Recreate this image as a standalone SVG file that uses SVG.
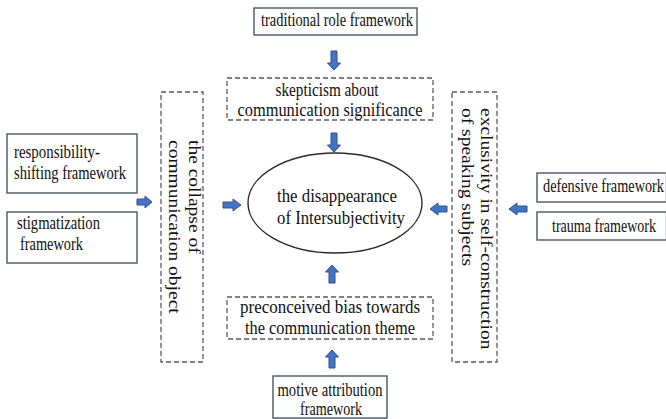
<svg xmlns="http://www.w3.org/2000/svg" width="666" height="419" viewBox="0 0 666 419">
<defs>
<style>
text{font-family:"Liberation Serif","Times New Roman",serif;font-size:18px;fill:#111}
.c{text-anchor:middle}
.solid{fill:#fff;stroke:#4a5664;stroke-width:1.4}
.dash{fill:none;stroke:#555a60;stroke-width:1.3;stroke-dasharray:5 3}
.arr{fill:#4472c4;stroke:#2f528f;stroke-width:1}
.v{font-size:19.5px}
</style>
</defs>
<rect width="666" height="419" fill="#fff"/>

<g id="connectors">
<path class="arr" d="M331,51 H337 V63 H340.5 L334,70 L327.5,63 H331 Z"/>
<path class="arr" d="M331,133 H337 V145 H340.5 L334,152 L327.5,145 H331 Z"/>
<path class="arr" d="M329,283 H335 V272 H338.5 L332,265 L325.5,272 H329 Z"/>
<path class="arr" d="M329,368 H335 V357 H338.5 L332,350 L325.5,357 H329 Z"/>
<path class="arr" d="M137,199 V205 H145 V208 L152,202 L145,196 V199 Z"/>
<path class="arr" d="M223,202 V208 H233 V211 L241,205 L233,199 V202 Z"/>
<path class="arr" d="M447,206 V212 H438 V215 L430,209 L438,203 V206 Z"/>
<path class="arr" d="M527,206 V212 H517 V215 L509,209 L517,203 V206 Z"/>
</g>

<g id="traditional">
<rect class="solid" x="254" y="8" width="163" height="27"/>
<text class="c" x="337" y="26" textLength="152" lengthAdjust="spacingAndGlyphs">traditional role framework</text>
</g>

<g id="skepticism">
<rect class="dash" x="227" y="78" width="206" height="42"/>
<text class="c" x="327" y="96" textLength="103" lengthAdjust="spacingAndGlyphs">skepticism about</text>
<text class="c" x="330" y="116" textLength="185" lengthAdjust="spacingAndGlyphs">communication significance</text>
</g>

<g id="center">
<ellipse cx="335" cy="203" rx="87" ry="50" fill="#fff" stroke="#2a2a2a" stroke-width="1.4"/>
<text class="c" x="337" y="202" textLength="120" lengthAdjust="spacingAndGlyphs">the disappearance</text>
<text class="c" x="341" y="224" textLength="128" lengthAdjust="spacingAndGlyphs">of Intersubjectivity</text>
</g>

<g id="preconceived">
<rect class="dash" x="227" y="297" width="206" height="42"/>
<text class="c" x="330" y="313" textLength="180" lengthAdjust="spacingAndGlyphs">preconceived bias towards</text>
<text class="c" x="330" y="334" textLength="170" lengthAdjust="spacingAndGlyphs">the communication theme</text>
</g>

<g id="motive">
<rect class="solid" x="273" y="376" width="114" height="42"/>
<text class="c" x="330" y="396" textLength="105" lengthAdjust="spacingAndGlyphs">motive attribution</text>
<text class="c" x="331" y="415" textLength="62" lengthAdjust="spacingAndGlyphs">framework</text>
</g>

<g id="collapse">
<rect class="dash" x="161" y="92" width="42" height="270"/>
<text class="v" transform="translate(189,140) rotate(90) scale(1,0.81)">the collapse of</text>
<text class="v" transform="translate(169,140) rotate(90) scale(1,0.81)">communication object</text>
</g>

<g id="exclusivity">
<rect class="dash" x="452" y="92" width="45" height="270"/>
<text class="v" transform="translate(481,108) rotate(90) scale(1,0.81)">exclusivity in self-construction</text>
<text class="v" transform="translate(462,108) rotate(90) scale(1,0.81)">of speaking subjects</text>
</g>

<g id="responsibility">
<rect class="solid" x="7" y="134" width="130" height="59"/>
<text x="14" y="158" textLength="86" lengthAdjust="spacingAndGlyphs">responsibility-</text>
<text x="14" y="179" textLength="112" lengthAdjust="spacingAndGlyphs">shifting framework</text>
</g>

<g id="stigmatization">
<rect class="solid" x="7" y="212" width="130" height="51"/>
<text x="17" y="229" textLength="83" lengthAdjust="spacingAndGlyphs">stigmatization</text>
<text x="20" y="250" textLength="63" lengthAdjust="spacingAndGlyphs">framework</text>
</g>

<g id="defensive">
<rect class="solid" x="537" y="173" width="129.5" height="29"/>
<text x="543" y="192" textLength="121" lengthAdjust="spacingAndGlyphs">defensive framework</text>
</g>

<g id="trauma">
<rect class="solid" x="537" y="212" width="129.5" height="28"/>
<text x="552" y="232" textLength="104" lengthAdjust="spacingAndGlyphs">trauma framework</text>
</g>
</svg>
